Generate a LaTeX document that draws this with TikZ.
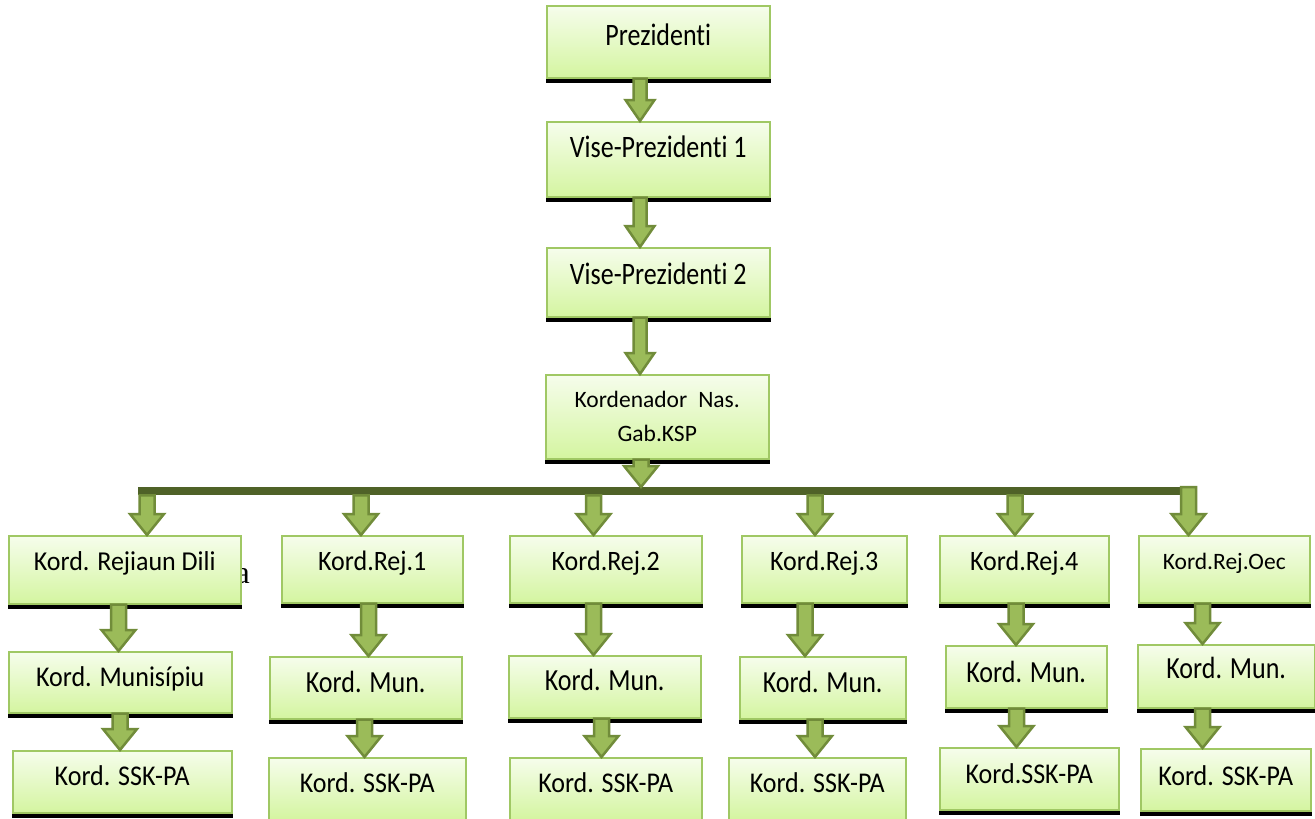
\documentclass[tikz,border=0pt]{standalone}
\usepackage{graphicx}
\usepackage{fontspec}
\setmainfont{Carlito}[Ligatures=NoCommon]
\newfontfamily\serifa{Liberation Serif}
\usetikzlibrary{calc}
\definecolor{boxline}{RGB}{160,200,100}
\definecolor{boxtop}{RGB}{246,253,236}
\definecolor{boxbot}{RGB}{212,245,160}
\definecolor{arrfill}{RGB}{155,187,89}
\definecolor{arrdraw}{RGB}{113,140,58}
\definecolor{barcol}{RGB}{79,98,40}
\tikzset{
  box/.style={draw=boxline, line width=1.5pt, top color=boxtop, bottom color=boxbot,
    inner sep=0pt, anchor=north west, text height=17pt, text depth=9pt,
    font=\fontsize{26}{31}\selectfont},
  arr/.style={fill=arrfill, draw=arrdraw, line width=2.5pt, line join=miter},
  barstyle/.style={fill=barcol, inner sep=0pt, anchor=north west},
  shadowbar/.style={fill=black}
}
\newcommand\vs[2]{\scalebox{1}[#1]{#2}}
\newcommand\barr[5]{%
  \path[arr] let \p1=(#1), \p2=(#2), \p3=(#3,0) in
   ({\x3-#4pt},\y1) -- ({\x3+#4pt},\y1) -- ({\x3+#4pt},{\y2+21pt}) -- ({\x3+#5pt},{\y2+21pt})
   -- (\x3,\y2) -- ({\x3-#5pt},{\y2+21pt}) -- ({\x3-#4pt},{\y2+21pt}) -- cycle;
}
\newcommand\shad[1]{%
  \fill[shadowbar] ([yshift=-0.5pt]#1.south west) rectangle ([yshift=-4.5pt]#1.south east);
}
\begin{document}
\begin{tikzpicture}[x=1pt,y=-1pt]
\useasboundingbox (0,0) rectangle (1315,819);
\clip (0,0) rectangle (1315,819);
% stray letter
\node[font=\serifa\fontsize{32}{36}\selectfont, inner sep=0pt, anchor=base east] (stray) at (250,583) {a};
% top chain
\node[box, minimum width=223, minimum height=72, text depth=9pt] (pres) at (546,5) {\vs{1.2}{Prezidenti}};
\node[box, minimum width=223, minimum height=75, text depth=20pt] (vp1) at (546,121) {\vs{1.2}{Vise-Prezidenti 1}};
\node[box, minimum width=223, minimum height=69, text depth=13pt] (vp2) at (546,247) {\vs{1.2}{Vise-Prezidenti 2}};
\node[box, minimum width=223, minimum height=84, text height=58pt, text depth=8pt,
  font=\fontsize{23.5}{28}\selectfont] (kn) at (545,374)
  {\begin{tabular}[b]{@{}c@{}}Kordenador\hspace{11pt}Nas.\\[6pt]Gab.KSP\end{tabular}};
% bar
\node[barstyle, minimum width=1044, minimum height=8] (bar) at (138,487) {};
% regional row
\node[box, text depth=15pt, minimum width=232, minimum height=68] (r0) at (8,535) {\vs{1.05}{Kord. Rejiaun Dili}};
\node[box, text depth=14pt, minimum width=181, minimum height=67] (r1) at (281,535) {\vs{1.08}{Kord.Rej.1}};
\node[box, text depth=14pt, minimum width=192, minimum height=67] (r2) at (509,535) {\vs{1.08}{Kord.Rej.2}};
\node[box, text depth=14pt, minimum width=165, minimum height=67] (r3) at (741,535) {\vs{1.08}{Kord.Rej.3}};
\node[box, text depth=14pt, minimum width=169, minimum height=67] (r4) at (939,535) {\vs{1.08}{Kord.Rej.4}};
\node[box, minimum width=171, minimum height=67, text height=15pt, text depth=15pt,
  font=\fontsize{23.5}{28}\selectfont] (r5) at (1138,535) {Kord.Rej.Oec};
% municipal row
\node[box, text depth=8pt, minimum width=223, minimum height=61] (m0) at (8,651) {\vs{1.1}{Kord. Munisípiu}\hspace{14pt}};
\node[box, text depth=7pt, minimum width=192, minimum height=62] (m1) at (269,656) {\vs{1.18}{Kord. Mun.}};
\node[box, text depth=9pt, minimum width=192, minimum height=62] (m2) at (508,655) {\vs{1.18}{Kord. Mun.}};
\node[box, text depth=7pt, minimum width=166, minimum height=62] (m3) at (739,656) {\vs{1.18}{Kord. Mun.}};
\node[box, text depth=5pt, minimum width=161, minimum height=62] (m4) at (945,645) {\vs{1.18}{Kord. Mun.}};
\node[box, text depth=12pt, minimum width=177, minimum height=63] (m5) at (1137,644) {\vs{1.18}{Kord. Mun.}};
% SSK row
\node[box, text depth=9pt, minimum width=219, minimum height=62] (s0) at (12,750) {\vs{1.1}{Kord. SSK-PA}};
\node[box, text depth=9pt, minimum width=197, minimum height=62] (s1) at (268,757) {\vs{1.1}{Kord. SSK-PA}};
\node[box, text depth=9pt, minimum width=192, minimum height=62] (s2) at (509,757) {\vs{1.1}{Kord. SSK-PA}};
\node[box, text depth=9pt, minimum width=177, minimum height=62] (s3) at (728,757) {\vs{1.1}{Kord. SSK-PA}};
\node[box, text depth=7pt, minimum width=179, minimum height=62] (s4) at (939,747) {\vs{1.1}{Kord.SSK-PA}};
\node[box, text depth=5pt, minimum width=170, minimum height=62] (s5) at (1140,748) {\vs{1.1}{Kord. SSK-PA}};
% shadows
\foreach \n in {pres,vp1,vp2,kn,r0,r1,r2,r3,r4,r5,m0,m1,m2,m3,m4,m5,s0,s1,s2,s3,s4,s5}{\shad{\n}}
% arrows
\barr{pres.south}{vp1.north}{640}{6.5}{14.5}
\barr{vp1.south}{vp2.north}{640}{6.5}{14.5}
\barr{vp2.south}{kn.north}{640}{6.5}{14.5}
\barr{kn.south}{bar.north}{641}{7.5}{17}
\barr{bar.south}{r0.north}{147}{7.5}{17}
\barr{bar.south}{r1.north}{361}{7.5}{17}
\barr{bar.south}{r2.north}{593.5}{7.5}{17}
\barr{bar.south}{r3.north}{815}{7.5}{17}
\barr{bar.south}{r4.north}{1015}{7.5}{17}
\barr{bar.north}{r5.north}{1188.5}{7.5}{17}
\barr{r0.south}{m0.north}{118.5}{7.5}{17}
\barr{r1.south}{m1.north}{368.5}{7.5}{17}
\barr{r2.south}{m2.north}{593.5}{7.5}{17}
\barr{r3.south}{m3.north}{805}{7.5}{17}
\barr{r4.south}{m4.north}{1016}{7.5}{17}
\barr{r5.south}{m5.north}{1202.5}{7.5}{17}
\barr{m0.south}{s0.north}{120}{7.5}{17}
\barr{m1.south}{s1.north}{364.5}{7.5}{17}
\barr{m2.south}{s2.north}{601.5}{7.5}{17}
\barr{m3.south}{s3.north}{815}{7.5}{17}
\barr{m4.south}{s4.north}{1016.5}{7.5}{17}
\barr{m5.south}{s5.north}{1202.5}{7.5}{17}
\end{tikzpicture}
\end{document}
